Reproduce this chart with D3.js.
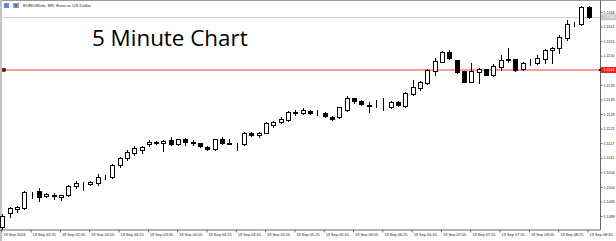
<!DOCTYPE html>
<html>
<head>
<meta charset="utf-8">
<script src="https://cdn.jsdelivr.net/npm/d3@7/dist/d3.min.js"></script>
<style>
  body { margin: 0; background: #fff; }
  svg { display: block; font-family: "Liberation Sans", Arial, sans-serif; }
</style>
</head>
<body>
<svg id="chart" width="616" height="241"></svg>
<script>
// EURUSDm M5, 19 Sep 2024 02:05 .. 08:45 (81 bars)
var open = [1.10851,1.10903,1.10920,1.10922,1.10982,1.10986,1.10967,1.10971,1.10964,1.10971,
  1.11005,1.11009,1.11013,1.11016,1.11039,1.11039,1.11084,1.11111,1.11130,1.11141,
  1.11162,1.11173,1.11166,1.11177,1.11163,1.11181,1.11171,1.11167,1.11153,1.11145,
  1.11184,1.11166,1.11163,1.11163,1.11206,1.11197,1.11206,1.11235,1.11248,1.11254,
  1.11285,1.11281,1.11288,1.11281,1.11280,1.11267,1.11265,1.11292,1.11336,1.11326,
  1.11310,1.11307,1.11308,1.11304,1.11323,1.11307,1.11352,1.11374,1.11393,1.11440,
  1.11475,1.11512,1.11480,1.11439,1.11399,1.11437,1.11446,1.11424,1.11455,1.11482,
  1.11484,1.11446,1.11472,1.11470,1.11484,1.11518,1.11525,1.11563,1.11617,1.11616,
  1.11679];
var high = [1.10900,1.10926,1.10930,1.10986,1.10984,1.10998,1.10979,1.10979,1.10972,1.11009,
  1.11024,1.11020,1.11024,1.11050,1.11047,1.11088,1.11114,1.11141,1.11156,1.11156,
  1.11179,1.11175,1.11179,1.11190,1.11184,1.11186,1.11179,1.11168,1.11155,1.11184,
  1.11190,1.11184,1.11167,1.11209,1.11209,1.11210,1.11246,1.11250,1.11265,1.11288,
  1.11292,1.11298,1.11292,1.11292,1.11284,1.11269,1.11303,1.11344,1.11337,1.11329,
  1.11323,1.11329,1.11337,1.11326,1.11326,1.11359,1.11405,1.11401,1.11446,1.11487,
  1.11514,1.11518,1.11482,1.11441,1.11468,1.11450,1.11448,1.11465,1.11499,1.11525,
  1.11485,1.11473,1.11484,1.11499,1.11522,1.11529,1.11574,1.11631,1.11625,1.11684,
  1.11684];
var low = [1.10843,1.10888,1.10907,1.10918,1.10960,1.10949,1.10964,1.10956,1.10952,1.10967,
  1.10998,1.10990,1.11009,1.11009,1.11031,1.11035,1.11077,1.11103,1.11122,1.11130,
  1.11156,1.11163,1.11138,1.11160,1.11160,1.11160,1.11160,1.11151,1.11141,1.11141,
  1.11163,1.11163,1.11141,1.11160,1.11194,1.11191,1.11205,1.11229,1.11242,1.11252,
  1.11273,1.11277,1.11277,1.11273,1.11265,1.11256,1.11261,1.11288,1.11317,1.11310,
  1.11285,1.11304,1.11292,1.11301,1.11308,1.11305,1.11348,1.11367,1.11389,1.11424,
  1.11473,1.11484,1.11431,1.11396,1.11397,1.11395,1.11424,1.11422,1.11443,1.11475,
  1.11441,1.11444,1.11461,1.11465,1.11469,1.11469,1.11506,1.11555,1.11608,1.11612,
  1.11638];
var close = [1.10892,1.10922,1.10926,1.10982,1.10981,1.10964,1.10975,1.10969,1.10971,1.11005,
  1.11016,1.11010,1.11020,1.11039,1.11040,1.11084,1.11111,1.11133,1.11148,1.11152,
  1.11172,1.11166,1.11175,1.11163,1.11181,1.11171,1.11169,1.11156,1.11145,1.11182,
  1.11166,1.11165,1.11162,1.11206,1.11197,1.11206,1.11243,1.11248,1.11260,1.11285,
  1.11279,1.11292,1.11279,1.11280,1.11269,1.11259,1.11302,1.11336,1.11327,1.11314,
  1.11309,1.11306,1.11309,1.11323,1.11310,1.11357,1.11380,1.11399,1.11443,1.11478,
  1.11512,1.11487,1.11437,1.11399,1.11439,1.11446,1.11424,1.11458,1.11480,1.11485,
  1.11443,1.11470,1.11473,1.11490,1.11518,1.11527,1.11566,1.11616,1.11618,1.11679,
  1.11642];

var xTickLabels = ["19 Sep 2024","19 Sep 02:25","19 Sep 02:45","19 Sep 03:05","19 Sep 03:25",
  "19 Sep 03:45","19 Sep 04:05","19 Sep 04:25","19 Sep 04:45","19 Sep 05:05","19 Sep 05:25",
  "19 Sep 05:45","19 Sep 06:05","19 Sep 06:25","19 Sep 06:45","19 Sep 07:05","19 Sep 07:25",
  "19 Sep 07:45","19 Sep 08:05","19 Sep 08:25","19 Sep 08:45"];
var yTickValues = [1.10892,1.10947,1.11002,1.11057,1.11112,1.11167,1.11222,1.11277,
  1.11332,1.11387,1.11497,1.11552,1.11607,1.11662];
var levelPrice = 1.11443;   // red horizontal line
var bidPrice = 1.11642;     // grey bid line
var title = "5 Minute Chart";
var symbolText = "EURUSDm, M5: Euro vs US Dollar";

// bar times, one every 5 minutes from 02:05
var t0 = new Date(2024, 8, 19, 2, 5);
var times = open.map(function(d, i) { return d3.timeMinute.offset(t0, 5 * i); });

var bars = open.map(function(d, i) {
  return { t: times[i], o: open[i], h: high[i], l: low[i], c: close[i] };
});

var svg = d3.select("#chart");
var W = 616, H = 241, plotRight = 600, plotBottom = 230;

var x = d3.scaleBand().domain(times).range([-1.4, 592.2]).padding(0);
var y = d3.scaleLinear().domain([1.10892, 1.11662]).range([216, 12]);
function cx(t) { return Math.round(x(t) + x.bandwidth() / 2); }
function py(p) { return Math.round(y(p)); }

svg.append("rect").attr("width", W).attr("height", H).attr("fill", "#fff");

// frame
svg.append("rect").attr("x", 0).attr("y", 0).attr("width", W).attr("height", 1).attr("fill", "#9a9a9a");
svg.append("rect").attr("x", 0).attr("y", 0).attr("width", 2).attr("height", H).attr("fill", "#c4c4c4");

// header
var hdr = svg.append("g");
hdr.append("rect").attr("x", 4).attr("y", 3).attr("width", 5).attr("height", 5).attr("fill", "#5b8fd6");
hdr.append("rect").attr("x", 5).attr("y", 4).attr("width", 1.5).attr("height", 3).attr("fill", "#e05050");
hdr.append("rect").attr("x", 13).attr("y", 3).attr("width", 6).attr("height", 5).attr("fill", "#6fa0e0");
hdr.append("rect").attr("x", 15).attr("y", 4).attr("width", 2).attr("height", 3).attr("fill", "#d04040");
hdr.append("text").attr("x", 23).attr("y", 7.2).attr("font-size", 4.4).attr("fill", "#222")
  .text(symbolText);

// bid line
svg.append("line").attr("x1", 2).attr("x2", plotRight).attr("y1", py(bidPrice) + 0.5).attr("y2", py(bidPrice) + 0.5)
  .attr("stroke", "#cfcfcf").attr("stroke-width", 1);

// red level line
svg.append("line").attr("x1", 2).attr("x2", plotRight).attr("y1", y(levelPrice)).attr("y2", y(levelPrice))
  .attr("stroke", "#ff7a7a").attr("stroke-width", 1.4);
svg.append("rect").attr("x", 2.5).attr("y", y(levelPrice) - 1.5).attr("width", 3).attr("height", 3)
  .attr("fill", "#7a0000").attr("stroke", "#300").attr("stroke-width", 0.5);

// title
svg.append("text").attr("x", 92).attr("y", 46).attr("font-family", "'Open Sans', sans-serif")
  .attr("font-size", 22.4).attr("fill", "#000").text(title);

// candles
var g = svg.append("g");
g.selectAll(".wick").data(bars).enter().append("line")
  .attr("class", "wick")
  .attr("x1", function(d) { return cx(d.t) + 0.5; })
  .attr("x2", function(d) { return cx(d.t) + 0.5; })
  .attr("y1", function(d) { return py(d.h); })
  .attr("y2", function(d) { return py(d.l) + 1; })
  .attr("stroke", "#000").attr("stroke-width", 1);

g.selectAll(".body").data(bars).enter().append("rect")
  .attr("class", "body")
  .attr("x", function(d) { return cx(d.t) - 1.5; })
  .attr("y", function(d) { return py(Math.max(d.o, d.c)) + 0.5; })
  .attr("width", 4)
  .attr("height", function(d) { return Math.max(0, py(Math.min(d.o, d.c)) - py(Math.max(d.o, d.c))); })
  .attr("fill", function(d) { return d.c >= d.o ? "#fff" : "#000"; })
  .attr("stroke", "#000").attr("stroke-width", 1);

// bottom axis
var xAxis = d3.axisBottom(x)
  .tickValues(times.filter(function(d, i) { return i % 4 === 0; }))
  .tickSize(3).tickSizeOuter(0)
  .tickFormat(function(d, i) { return xTickLabels[i]; });
var gx = svg.append("g").attr("transform", "translate(0," + (plotBottom - 0.5) + ")").call(xAxis);
gx.select(".domain").attr("d", "M0,0.5H" + plotRight).attr("stroke", "#666");
gx.selectAll(".tick line").attr("stroke", "#666").attr("transform", "translate(-0.5,0)");
gx.selectAll(".tick text").attr("text-anchor", "start").attr("dx", 1).attr("y", 4)
  .attr("font-size", 3.9).attr("fill", "#222").attr("font-family", "'Liberation Sans', Arial, sans-serif");

// right axis
var yAxis = d3.axisRight(y).tickValues(yTickValues).tickSize(2).tickSizeOuter(0)
  .tickFormat(d3.format(".4f"));
var gy = svg.append("g").attr("transform", "translate(" + (plotRight + 0.5) + ",0)").call(yAxis);
gy.select(".domain").attr("d", "M0,0V" + plotBottom).attr("stroke", "#666");
gy.selectAll(".tick line").attr("stroke", "#666");
gy.selectAll(".tick text").attr("x", 3).attr("font-size", 3.7).attr("fill", "#222")
  .attr("font-family", "'Liberation Sans', Arial, sans-serif");

// price labels on the right scale
function priceTag(p, bg, fg) {
  var yy = y(p);
  svg.append("rect").attr("x", plotRight + 1).attr("y", yy - 3).attr("width", W - plotRight - 1).attr("height", 6)
    .attr("fill", bg);
  svg.append("text").attr("x", plotRight + 3.5).attr("y", yy).attr("dy", "0.32em")
    .attr("font-size", 3.7).attr("fill", fg).text(d3.format(".4f")(p));
}
priceTag(bidPrice, "#c9c9c9", "#f5f5f5");
priceTag(levelPrice, "#ff1a1a", "#fff");
svg.append("rect").attr("x", plotRight - 1).attr("y", y(levelPrice) - 1).attr("width", 2).attr("height", 2).attr("fill", "#000");
</script>
</body>
</html>
